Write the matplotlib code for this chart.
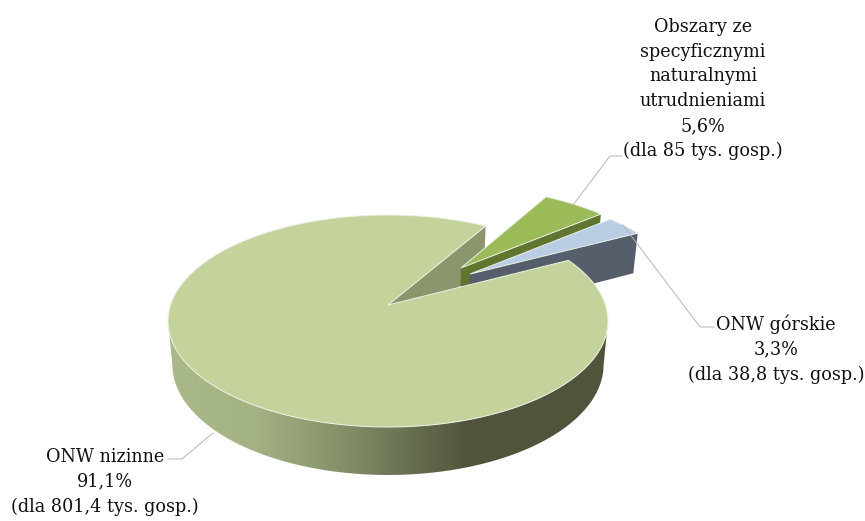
import numpy as np
import matplotlib
matplotlib.use('Agg')
import matplotlib.pyplot as plt
from matplotlib.colors import LinearSegmentedColormap
from matplotlib.patches import Polygon

labels = ['ONW nizinne\n91,1%\n(dla 801,4 tys. gosp.)',
          'Obszary ze\nspecyficznymi\nnaturalnymi\nutrudnieniami\n5,6%\n(dla 85 tys. gosp.)',
          'ONW górskie\n3,3%\n(dla 38,8 tys. gosp.)']
shares = [91.1, 5.6, 3.3]

top_colors = ['#c3d39b', '#9bbb59', '#b9cde5']
cut_colors = ['#8a966c', '#5f7530', '#565e6c']

# how far each slice is pulled out of the pie
offsets = [(0, 0), (0.355, 0.378), (0.395, 0.313)]
start_angle = 59.5

# perspective of the pie
x0, y0 = 388, 305
b, a, k = 217.5, 103.6, 0.151
drop, shrink = 44.1, 0.02


def project(u, v, low=False):
    h = 1 if low else 0
    den = 1 + k * v + shrink * h
    return x0 + b * u / den, y0 - (a * v - drop * h) / den


def arc(t1, t2, off=(0, 0), low=False, n=200):
    t = np.radians(np.linspace(t1, t2, n))
    return np.column_stack(project(off[0] + np.cos(t), off[1] + np.sin(t), low))


fig = plt.figure(figsize=(8.65, 5.21), dpi=100)
ax = fig.add_axes([0, 0, 1, 1])
ax.set_xlim(0, 865)
ax.set_ylim(521, 0)
ax.axis('off')

# slice limits, clockwise for the two small ones
main_t1 = start_angle
main_t2 = start_angle + shares[0] * 3.6
green_t1, green_t2 = start_angle - shares[1] * 3.6, start_angle
blue_t1, blue_t2 = green_t1 - shares[2] * 3.6, green_t1

# inner cut of the big slice
p = project(np.cos(np.radians(main_t1)), np.sin(np.radians(main_t1)))
p2 = project(np.cos(np.radians(main_t1)), np.sin(np.radians(main_t1)), True)
ax.add_patch(Polygon([project(0, 0), p, p2, project(0, 0, True)], fc=cut_colors[0], ec='none', zorder=1))

# small slices: cut face then top
for i, (t1, t2) in enumerate([(green_t1, green_t2), (blue_t1, blue_t2)], start=1):
    off = offsets[i]
    c = np.radians(t1)
    ax.add_patch(Polygon([project(off[0], off[1]),
                          project(off[0] + np.cos(c), off[1] + np.sin(c)),
                          project(off[0] + np.cos(c), off[1] + np.sin(c), True),
                          project(off[0], off[1], True)],
                         fc=cut_colors[i], ec='none', zorder=2 + i))
    top = np.vstack([project(off[0], off[1]), arc(t1, t2, off)])
    ax.add_patch(Polygon(top, fc=top_colors[i], ec='#eef1e6', lw=0.7, zorder=2 + i))

# side wall of the big slice, shaded left to right
wall_top = arc(188.7, 351.3)
wall_low = arc(188.7, 351.3, low=True)
wall = Polygon(np.vstack([wall_top, wall_low[::-1]]), fc='none', ec='none', zorder=6)
ax.add_patch(wall)
cmap = LinearSegmentedColormap.from_list('wall', [(0, '#a9b98a'), (0.2, '#a3b283'), (0.4, '#858f68'),
                                                  (0.5, '#707a58'), (0.68, '#51553b'), (1, '#50543b')])
img = ax.imshow(np.linspace(0, 1, 256).reshape(1, -1), cmap=cmap, extent=(168, 608, 521, 0),
                aspect='auto', zorder=6)
img.set_clip_path(wall)
ax.set_xlim(0, 865)
ax.set_ylim(521, 0)

# top of the big slice
top = np.vstack([project(0, 0), arc(main_t1, main_t2)])
ax.add_patch(Polygon(top, fc=top_colors[0], ec='#eef1e6', lw=0.7, zorder=7))

# leader lines
ax.plot([213, 182, 169], [433, 459, 459], color='#b5b5b5', lw=0.7, zorder=8)
ax.plot([573, 610, 622], [205, 156, 156], color='#b5b5b5', lw=0.7, zorder=8)
ax.plot([623, 700, 714], [225, 327, 327], color='#b5b5b5', lw=0.7, zorder=8)

font = dict(family='DejaVu Serif', size=12.7, color='#111111', ha='center', va='center',
            linespacing=1.48, zorder=9)
ax.text(105, 482, labels[0], **font)
ax.text(703, 89, labels[1], **font)
ax.text(776, 349, labels[2], **font)

fig.savefig('out.png', dpi=100)
